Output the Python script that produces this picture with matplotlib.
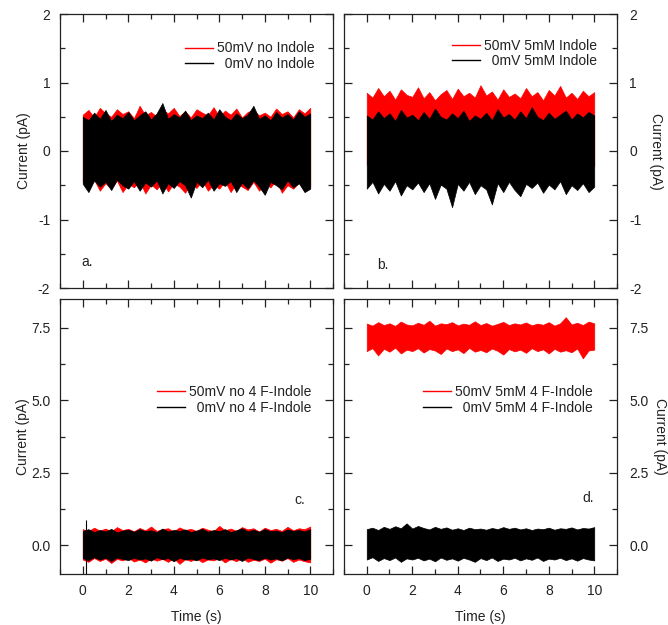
import numpy as np
import matplotlib.pyplot as plt
from matplotlib.lines import Line2D
from matplotlib.ticker import MultipleLocator

plt.rcParams['font.family'] = ['Liberation Sans', 'DejaVu Sans']
plt.rcParams['font.size'] = 10
plt.rcParams['axes.unicode_minus'] = False

# envelope of each current trace (pA) at evenly spaced times 0..10 s
a_red_hi = [0.53, 0.60, 0.49, 0.63, 0.55, 0.50, 0.61, 0.54, 0.58, 0.48,
            0.66, 0.52, 0.57, 0.50, 0.60, 0.55, 0.63, 0.51, 0.58, 0.49,
            0.61, 0.56, 0.52, 0.64, 0.50, 0.59, 0.53, 0.62, 0.49, 0.57,
            0.60, 0.52, 0.56, 0.50, 0.62, 0.54, 0.58, 0.49, 0.61, 0.55, 0.63]
a_red_lo = [-0.45, -0.52, -0.42, -0.58, -0.47, -0.55, -0.43, -0.60, -0.48, -0.53,
            -0.44, -0.62, -0.49, -0.56, -0.45, -0.59, -0.47, -0.52, -0.61, -0.46,
            -0.54, -0.43, -0.58, -0.49, -0.55, -0.44, -0.60, -0.47, -0.52, -0.57,
            -0.45, -0.58, -0.48, -0.53, -0.43, -0.61, -0.50, -0.55, -0.46, -0.59, -0.52]
a_blk_hi = [0.50, 0.45, 0.56, 0.47, 0.60, 0.44, 0.53, 0.48, 0.57, 0.45,
            0.52, 0.58, 0.46, 0.55, 0.70, 0.47, 0.54, 0.49, 0.59, 0.45,
            0.52, 0.48, 0.56, 0.46, 0.61, 0.50, 0.45, 0.55, 0.48, 0.53,
            0.66, 0.47, 0.52, 0.45, 0.57, 0.49, 0.54, 0.46, 0.58, 0.50, 0.55]
a_blk_lo = [-0.48, -0.60, -0.43, -0.52, -0.45, -0.57, -0.42, -0.50, -0.55, -0.44,
            -0.58, -0.46, -0.52, -0.43, -0.62, -0.47, -0.54, -0.44, -0.50, -0.68,
            -0.45, -0.53, -0.42, -0.58, -0.47, -0.51, -0.44, -0.60, -0.46, -0.55,
            -0.43, -0.52, -0.64, -0.45, -0.50, -0.56, -0.43, -0.53, -0.47, -0.60, -0.55]

b_red_hi = [0.85, 0.78, 0.92, 0.80, 0.88, 0.75, 0.90, 0.82, 0.79, 0.93,
            0.77, 0.86, 0.74, 0.83, 0.89, 0.76, 0.91, 0.80, 0.85, 0.78,
            0.96, 0.81, 0.87, 0.75, 0.90, 0.79, 0.84, 0.77, 0.92, 0.80,
            0.86, 0.74, 0.89, 0.81, 0.95, 0.78, 0.85, 0.76, 0.88, 0.80, 0.86]
b_red_lo = [-0.20, -0.25, -0.18, -0.22, -0.27, -0.19, -0.24, -0.21, -0.26, -0.18,
            -0.23, -0.20, -0.25, -0.19, -0.22, -0.27, -0.20, -0.24, -0.18, -0.23,
            -0.21, -0.26, -0.19, -0.22, -0.25, -0.20, -0.23, -0.18, -0.24, -0.21,
            -0.26, -0.19, -0.22, -0.20, -0.25, -0.18, -0.23, -0.21, -0.24, -0.20, -0.22]
b_blk_hi = [0.52, 0.46, 0.58, 0.48, 0.55, 0.44, 0.60, 0.49, 0.53, 0.45,
            0.57, 0.47, 0.62, 0.50, 0.46, 0.55, 0.48, 0.59, 0.44, 0.52,
            0.47, 0.56, 0.45, 0.61, 0.49, 0.54, 0.46, 0.58, 0.48, 0.64,
            0.50, 0.45, 0.56, 0.47, 0.53, 0.59, 0.46, 0.55, 0.49, 0.57, 0.52]
b_blk_lo = [-0.55, -0.45, -0.62, -0.48, -0.58, -0.44, -0.65, -0.50, -0.56, -0.46,
            -0.60, -0.47, -0.70, -0.49, -0.55, -0.82, -0.48, -0.58, -0.45, -0.63,
            -0.50, -0.56, -0.78, -0.47, -0.60, -0.45, -0.57, -0.66, -0.48, -0.54,
            -0.46, -0.61, -0.49, -0.56, -0.44, -0.63, -0.50, -0.57, -0.47, -0.60, -0.52]

c_red_hi = [0.55, 0.48, 0.60, 0.50, 0.57, 0.47, 0.62, 0.52, 0.56, 0.48,
            0.59, 0.51, 0.64, 0.49, 0.55, 0.58, 0.47, 0.61, 0.52, 0.56,
            0.49, 0.60, 0.53, 0.48, 0.66, 0.51, 0.57, 0.49, 0.62, 0.54,
            0.58, 0.47, 0.60, 0.52, 0.56, 0.49, 0.63, 0.51, 0.58, 0.55, 0.64]
c_red_lo = [-0.50, -0.58, -0.45, -0.55, -0.47, -0.62, -0.48, -0.53, -0.44, -0.57,
            -0.50, -0.60, -0.46, -0.54, -0.48, -0.58, -0.45, -0.65, -0.49, -0.55,
            -0.46, -0.59, -0.50, -0.53, -0.45, -0.60, -0.48, -0.56, -0.44, -0.58,
            -0.51, -0.55, -0.47, -0.61, -0.49, -0.54, -0.45, -0.58, -0.50, -0.56, -0.60]
c_blk_hi = [0.48, 0.55, 0.45, 0.52, 0.47, 0.56, 0.44, 0.50, 0.53, 0.46,
            0.55, 0.48, 0.51, 0.45, 0.57, 0.47, 0.52, 0.49, 0.54, 0.45,
            0.50, 0.56, 0.46, 0.52, 0.48, 0.55, 0.45, 0.51, 0.58, 0.47,
            0.53, 0.46, 0.55, 0.48, 0.50, 0.45, 0.54, 0.49, 0.52, 0.47, 0.55]
c_blk_lo = [-0.45, -0.52, -0.42, -0.50, -0.44, -0.55, -0.43, -0.48, -0.52, -0.44,
            -0.50, -0.46, -0.54, -0.42, -0.49, -0.45, -0.56, -0.44, -0.50, -0.47,
            -0.53, -0.43, -0.49, -0.46, -0.52, -0.44, -0.50, -0.45, -0.55, -0.43,
            -0.48, -0.52, -0.44, -0.50, -0.46, -0.53, -0.43, -0.49, -0.45, -0.52, -0.48]
# single big glitch at the start of the black trace in c
c_spike_t, c_spike_lo, c_spike_hi = 0.15, -1.05, 0.85

d_red_hi = [7.65, 7.58, 7.70, 7.60, 7.66, 7.57, 7.72, 7.62, 7.59, 7.68,
            7.61, 7.75, 7.58, 7.66, 7.63, 7.70, 7.59, 7.65, 7.61, 7.73,
            7.60, 7.67, 7.58, 7.64, 7.71, 7.60, 7.66, 7.62, 7.69, 7.59,
            7.65, 7.61, 7.70, 7.58, 7.66, 7.87, 7.62, 7.68, 7.60, 7.72, 7.66]
d_red_lo = [6.70, 6.80, 6.55, 6.78, 6.68, 6.82, 6.62, 6.75, 6.70, 6.80,
            6.65, 6.77, 6.72, 6.60, 6.79, 6.70, 6.76, 6.63, 6.81, 6.68,
            6.74, 6.66, 6.79, 6.71, 6.58, 6.77, 6.69, 6.75, 6.64, 6.80,
            6.70, 6.76, 6.62, 6.78, 6.68, 6.73, 6.66, 6.79, 6.45, 6.72, 6.75]
d_blk_hi = [0.55, 0.60, 0.52, 0.63, 0.56, 0.65, 0.58, 0.75, 0.57, 0.66,
            0.59, 0.54, 0.63, 0.56, 0.61, 0.53, 0.58, 0.52, 0.60, 0.55,
            0.57, 0.53, 0.59, 0.55, 0.62, 0.56, 0.60, 0.54, 0.58, 0.52,
            0.57, 0.55, 0.60, 0.53, 0.58, 0.56, 0.61, 0.54, 0.59, 0.57, 0.62]
d_blk_lo = [-0.50, -0.42, -0.55, -0.45, -0.52, -0.43, -0.58, -0.46, -0.50, -0.44,
            -0.53, -0.47, -0.56, -0.43, -0.51, -0.46, -0.54, -0.44, -0.50, -0.58,
            -0.45, -0.52, -0.43, -0.55, -0.47, -0.50, -0.44, -0.53, -0.46, -0.51,
            -0.43, -0.55, -0.47, -0.50, -0.44, -0.52, -0.46, -0.54, -0.45, -0.50, -0.53]

labels_a = ['50mV no Indole', '  0mV no Indole']
labels_b = ['50mV 5mM Indole', '  0mV 5mM Indole']
labels_c = ['50mV no 4 F-Indole', '  0mV no 4 F-Indole']
labels_d = ['50mV 5mM 4 F-Indole', '  0mV 5mM 4 F-Indole']

RED = '#ff0000'
BLK = '#000000'
TXT = '#222222'


def draw_trace(ax, hi, lo, color):
    t = np.linspace(0, 10, len(hi))
    ax.fill_between(t, lo, hi, color=color, lw=0.5, edgecolor=color)


def style_axis(ax, ylim, ymaj, ymin, right, bottom_labels, ylabelpad):
    ax.set_xlim(-1, 11)
    ax.set_ylim(*ylim)
    ax.xaxis.set_major_locator(MultipleLocator(2))
    ax.xaxis.set_minor_locator(MultipleLocator(1))
    ax.yaxis.set_major_locator(MultipleLocator(ymaj))
    ax.yaxis.set_minor_locator(MultipleLocator(ymin))
    ax.tick_params(which='both', direction='in', top=True, bottom=True,
                   left=True, right=True, color=TXT, width=0.9, pad=7,
                   labelleft=not right, labelright=right,
                   labelbottom=bottom_labels, labelcolor=TXT, labelsize=10)
    ax.tick_params(which='major', length=6)
    ax.tick_params(which='minor', length=3.5)
    for s in ax.spines.values():
        s.set_color(TXT)
        s.set_linewidth(0.9)
    if right:
        ax.tick_params(axis='y', pad=9)
        ax.yaxis.set_label_position('right')
        ax.set_ylabel('Current (pA)', rotation=270, labelpad=ylabelpad, color=TXT)
    else:
        ax.set_ylabel('Current (pA)', labelpad=ylabelpad, color=TXT)
    if bottom_labels:
        ax.set_xlabel('Time (s)', color=TXT, labelpad=9)


def add_legend(ax, labels, x, y):
    handles = [Line2D([], [], color=RED, lw=1.0), Line2D([], [], color=BLK, lw=1.0)]
    ax.legend(handles, labels, loc='upper right', bbox_to_anchor=(x, y),
              frameon=False, borderpad=0, borderaxespad=0, handlelength=2.0,
              handletextpad=0.3, labelspacing=0.12, fontsize=10, labelcolor=TXT)


fig = plt.figure(figsize=(6.68, 6.25), dpi=100)
W, H = 668, 625
ax_a = fig.add_axes([60 / W, 1 - 288 / H, 273 / W, 274 / H])
ax_b = fig.add_axes([344 / W, 1 - 288 / H, 273 / W, 274 / H])
ax_c = fig.add_axes([60 / W, 1 - 574 / H, 273 / W, 275 / H])
ax_d = fig.add_axes([344 / W, 1 - 574 / H, 273 / W, 275 / H])

draw_trace(ax_a, a_red_hi, a_red_lo, RED)
draw_trace(ax_a, a_blk_hi, a_blk_lo, BLK)
draw_trace(ax_b, b_red_hi, b_red_lo, RED)
draw_trace(ax_b, b_blk_hi, b_blk_lo, BLK)
draw_trace(ax_c, c_red_hi, c_red_lo, RED)
draw_trace(ax_c, c_blk_hi, c_blk_lo, BLK)
ax_c.vlines(c_spike_t, c_spike_lo, c_spike_hi, color=BLK, lw=0.8)
draw_trace(ax_d, d_red_hi, d_red_lo, RED)
draw_trace(ax_d, d_blk_hi, d_blk_lo, BLK)

style_axis(ax_a, (-2, 2), 1, 0.5, right=False, bottom_labels=False, ylabelpad=5)
style_axis(ax_b, (-2, 2), 1, 0.5, right=True, bottom_labels=False, ylabelpad=15)
style_axis(ax_c, (-1, 8.5), 2.5, 1.25, right=False, bottom_labels=True, ylabelpad=0.5)
style_axis(ax_d, (-1, 8.5), 2.5, 1.25, right=True, bottom_labels=True, ylabelpad=13)
for ax in (ax_c, ax_d):
    ax.yaxis.set_major_formatter('{x:.1f}')

add_legend(ax_a, labels_a, 0.934, 0.90)
add_legend(ax_b, labels_b, 0.927, 0.91)
add_legend(ax_c, labels_c, 0.92, 0.687)
add_legend(ax_d, labels_d, 0.912, 0.687)

ax_a.text(0.10, 0.095, 'a.', transform=ax_a.transAxes, ha='center', va='center', color=TXT)
ax_b.text(0.143, 0.084, 'b.', transform=ax_b.transAxes, ha='center', va='center', color=TXT)
ax_c.text(0.88, 0.27, 'c.', transform=ax_c.transAxes, ha='center', va='center', color=TXT)
ax_d.text(0.894, 0.276, 'd.', transform=ax_d.transAxes, ha='center', va='center', color=TXT)

fig.savefig('out.png', dpi=100)
